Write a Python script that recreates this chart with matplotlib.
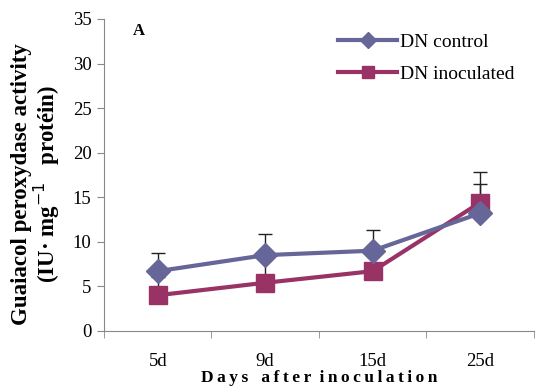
import numpy as np
import matplotlib.pyplot as plt

days = ["5d", "9d", "15d", "25d"]
control = [6.7, 8.5, 9.0, 13.2]
control_err = [2.0, 2.4, 2.3, 3.3]
inoculated = [4.0, 5.4, 6.7, 14.4]
inoculated_err = [2.0, 2.8, 2.5, 3.4]

plt.rcParams['font.family'] = ['Liberation Serif', 'DejaVu Serif']

fig = plt.figure(figsize=(5.36, 3.87), dpi=100)
ax = fig.add_axes([0.194, 0.145, 0.802, 0.806])

x = np.arange(len(days))

# error bars (upper only) behind the lines
ax.errorbar(x, inoculated, yerr=[np.zeros(len(x)), inoculated_err], fmt='none',
            ecolor='#222222', elinewidth=1, capsize=5, capthick=1, zorder=1)
ax.errorbar(x, control, yerr=[np.zeros(len(x)), control_err], fmt='none',
            ecolor='#222222', elinewidth=1, capsize=5, capthick=1, zorder=1)

ax.plot(x, control, color='#666699', lw=3, marker='D', ms=12,
        label='DN control', zorder=3)
ax.plot(x, inoculated, color='#993366', lw=3, marker='s', ms=13,
        label='DN inoculated', zorder=2)

ax.set_xlim(-0.5, 3.5)
ax.set_ylim(0, 35)
ax.set_yticks(np.arange(0, 36, 5))
ax.set_xticks(x)
ax.set_xticklabels(days, fontsize=13.5)
ax.set_xticks(np.arange(-0.5, 3.6, 1), minor=True)
ax.tick_params(axis='x', which='major', length=0, pad=16)
ax.tick_params(axis='x', which='minor', length=5, color='#888888')
ax.tick_params(axis='y', labelsize=13.5, length=5, color='#888888', pad=4)

for s in ['top', 'right']:
    ax.spines[s].set_visible(False)
for s in ['left', 'bottom']:
    ax.spines[s].set_color('#888888')

ax.set_ylabel('Guaiacol peroxydase activity\n(IU· mg$^{-1}$   protéin)',
              fontsize=16.5, fontweight='bold', linespacing=1.0)
ax.yaxis.set_label_coords(-0.098, 0.47)
sp = '\u2009'
xlab = sp.join('Days') + '   ' + sp.join('after') + '  ' + sp.join('inoculation')
ax.set_xlabel(xlab, fontsize=12.5, fontweight='bold', labelpad=0)

ax.text(0.08, 0.96, 'A', transform=ax.transAxes, fontsize=12, fontweight='bold',
        ha='center', va='center')

ax.legend(loc='upper right', bbox_to_anchor=(0.995, 1.01), frameon=False,
          fontsize=14, handlelength=3.0, handletextpad=0.15, labelspacing=0.75,
          markerscale=0.7)

fig.savefig('out.png', dpi=100)
